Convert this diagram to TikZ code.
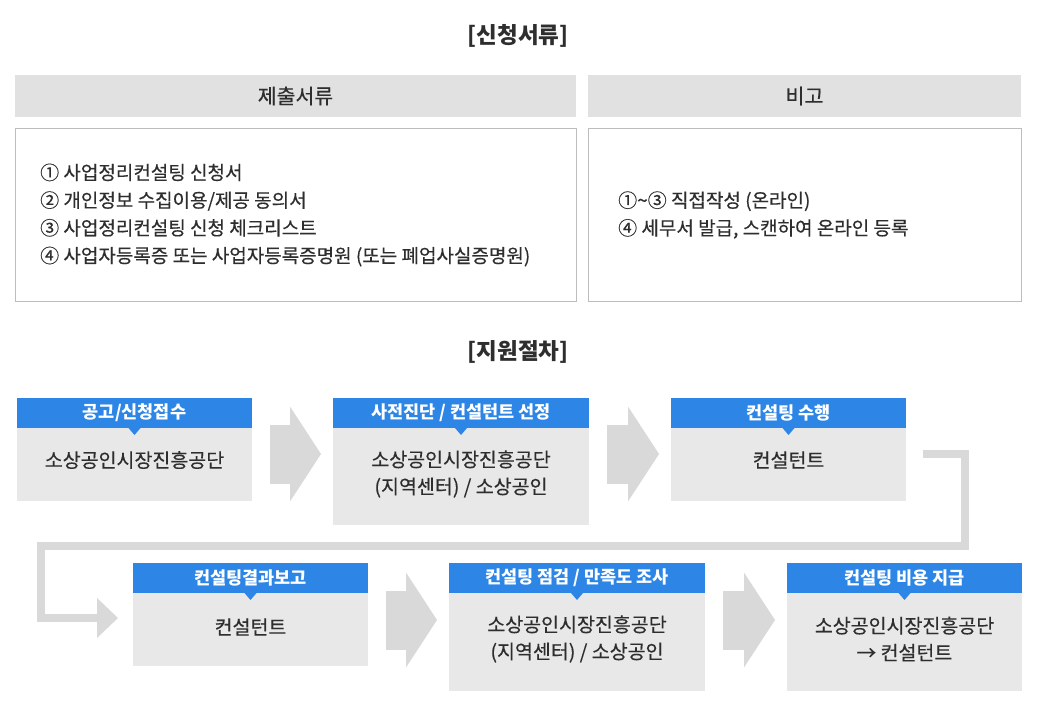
\documentclass[tikz,border=0pt]{standalone}
\usepackage{fontspec}
\setmainfont{Noto Sans CJK KR}[UprightFeatures={FakeBold=0.35}]
\usepackage{tikz}
\usetikzlibrary{positioning,arrows.meta}
\definecolor{headblue}{HTML}{2D86E6}
\definecolor{bodygray}{HTML}{E8E8E8}
\definecolor{arrowgray}{HTML}{D9D9D9}
\definecolor{bargray}{HTML}{E1E1E1}
\definecolor{linegray}{HTML}{BDBDBD}
\definecolor{textgray}{HTML}{2E2E2E}

\begin{document}
\begin{tikzpicture}[x=1pt,y=-1pt,
    title/.style={font=\fontsize{22.5}{26}\selectfont\bfseries,text=textgray},
    barbox/.style={fill=bargray,inner sep=0pt,outer sep=0pt,minimum height=42pt,
      font=\fontsize{20.5}{24}\selectfont,text=textgray},
    listbox/.style={draw=linegray,line width=1pt,fill=white,inner sep=0pt,outer sep=0pt,minimum height=172pt},
    listtext/.style={anchor=west,align=left,inner sep=0pt,text=textgray,
      font=\fontsize{19}{27.7}\selectfont},
    headbox/.style={fill=headblue,text=white,inner sep=0pt,outer sep=0pt,minimum height=30pt,
      minimum width=235pt,font=\fontsize{17.5}{20}\selectfont\bfseries},
    bodybox/.style={fill=bodygray,inner sep=0pt,outer sep=0pt,minimum width=235pt},
    bodytext/.style={align=center,inner sep=0pt,text=textgray,font=\fontsize{19.5}{27}\selectfont},
    blockarrow/.style={draw=arrowgray,line width=59pt,shorten <=18pt,shorten >=12pt,
      -{Triangle[length=31pt,width=95pt,line width=0pt]}},
    bendarrow/.style={draw=arrowgray,line width=8pt,line join=miter,shorten >=15pt,
      -{Triangle[length=21pt,width=40pt,line width=0pt]}}]
    \useasboundingbox (0,0) rectangle (1040,711);
    % documents
    \node[title] (ttl1) at (518,36) {[신청서류]};
    \node[barbox,minimum width=561pt] (bar1) at (295.5,96) {제출서류};
    \node[barbox,minimum width=433pt] (bar2) at (804.5,96) {비고};
    \node[listbox,minimum width=561pt] (lst1) at (295.5,215) {};
    \node[listbox,minimum width=433pt] (lst2) at (804.5,215) {};
    \node[listtext] (docs) at (40,215) {① 사업정리컨설팅 신청서\\② 개인정보 수집이용/제공 동의서\\③ 사업정리컨설팅 신청 체크리스트\\④ 사업자등록증 또는 사업자등록증명원 (또는 폐업사실증명원)};
    \node[listtext] (note) at (618,215) {①\textasciitilde③ 직접작성 (온라인)\\④ 세무서 발급, 스캔하여 온라인 등록};
    % procedure
    \node[title] (ttl2) at (518,352) {[지원절차]};
    \node[headbox] (h1) at (134.5,413) {공고/신청접수};
    \node[headbox,minimum width=256pt,right=81pt of h1] (h2) {사전진단 / 컨설턴트 선정};
    \node[headbox,right=82pt of h2] (h3) {컨설팅 수행};
    \node[headbox] (h4) at (250.5,578) {컨설팅결과보고};
    \node[headbox,minimum width=256pt,right=81pt of h4] (h5) {컨설팅 점검 / 만족도 조사};
    \node[headbox,right=82pt of h5] (h6) {컨설팅 비용 지급};
    \node[bodybox,minimum height=73pt,below=0pt of h1] (b1) {};
    \node[bodybox,minimum width=256pt,minimum height=97pt,below=0pt of h2] (b2) {};
    \node[bodybox,minimum height=73pt,below=0pt of h3] (b3) {};
    \node[bodybox,minimum height=73pt,below=0pt of h4] (b4) {};
    \node[bodybox,minimum width=256pt,minimum height=98pt,below=0pt of h5] (b5) {};
    \node[bodybox,minimum height=98pt,below=0pt of h6] (b6) {};
    \foreach \h in {h1,h2,h3,h4,h5,h6}
      \fill[headblue] ([xshift=-6pt]\h.south) -- ([xshift=6pt]\h.south) -- ([yshift=-7pt]\h.south) -- cycle;
    \node[bodytext] (t1) at ([yshift=-32pt]h1.south) {소상공인시장진흥공단};
    \node[bodytext] (t2) at ([yshift=-46pt]h2.south) {소상공인시장진흥공단\\(지역센터) / 소상공인};
    \node[bodytext] (t3) at ([yshift=-32pt]h3.south) {컨설턴트};
    \node[bodytext] (t4) at ([yshift=-34pt]h4.south) {컨설턴트};
    \node[bodytext] (t5) at ([yshift=-46pt]h5.south) {소상공인시장진흥공단\\(지역센터) / 소상공인};
    \node[bodytext] (t6) at ([yshift=-46pt]h6.south) {소상공인시장진흥공단\\→ 컨설턴트};
    % arrows
    \draw[blockarrow] ([yshift=-41pt]h1.east) -- ([yshift=-41pt]h2.west);
    \draw[blockarrow] ([yshift=-41pt]h2.east) -- ([yshift=-41pt]h3.west);
    \draw[blockarrow] ([yshift=-42pt]h4.east) -- ([yshift=-42pt]h5.west);
    \draw[blockarrow] ([yshift=-42pt]h5.east) -- ([yshift=-42pt]h6.west);
    \coordinate (turn1) at (965,546);
    \coordinate (turn2) at (41,546);
    \draw[bendarrow] ([xshift=17pt,yshift=-41pt]h3.east) -| (turn1) -- (turn2) |- ([yshift=-40pt]h4.west);
\end{tikzpicture}
\end{document}
